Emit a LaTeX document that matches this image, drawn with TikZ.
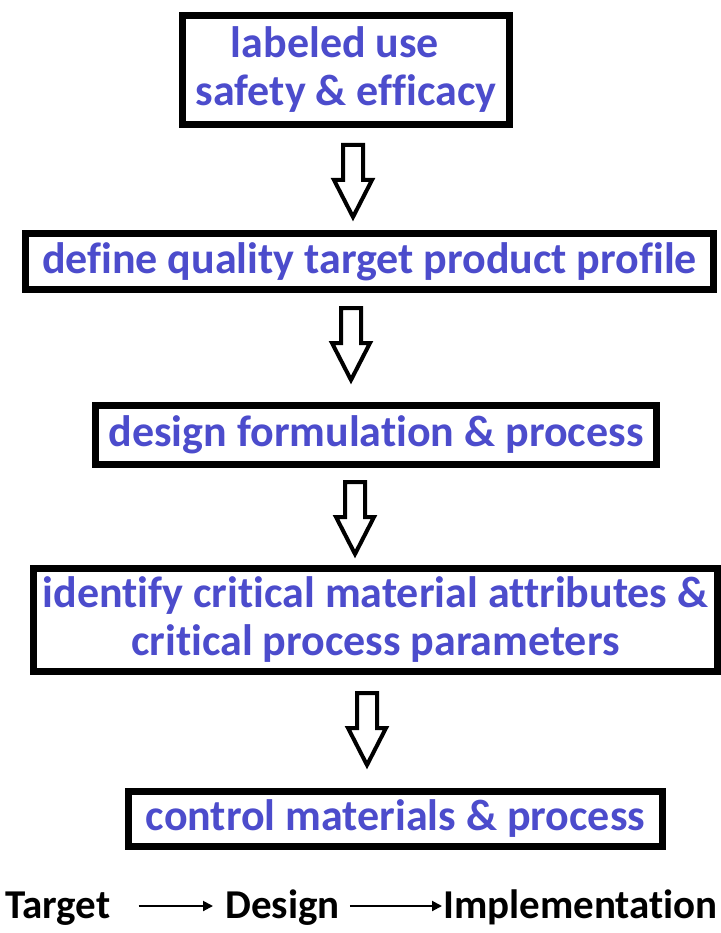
\documentclass[tikz,border=0pt]{standalone}
\usepackage{fontspec}
\setmainfont{Carlito}[Ligatures={NoCommon}]
\usetikzlibrary{arrows.meta}
\definecolor{txtblue}{RGB}{76,76,204}
\tikzset{
  stage/.style={draw=black, line width=7pt, fill=white, inner sep=0pt,
    font=\fontsize{44}{48}\selectfont\bfseries, text=txtblue, align=center},
  blockarrow/.style={draw=black, line width=4pt, fill=white, line join=miter},
  legend/.style={font=\fontsize{41}{46}\selectfont\bfseries, text=black, inner sep=0pt},
  legendarrow/.style={line width=2pt, -{Triangle[length=10pt,width=10pt]}}
}
\newcommand{\hollowdown}[1]{%
  \draw[blockarrow, shift={(#1)}] (-10,-37) -- (10,-37) -- (10,-2) -- (19,-2)
    -- (0,35) -- (-19,-2) -- (-10,-2) -- cycle;}
\begin{document}
\begin{tikzpicture}[x=1pt,y=-1pt]
\useasboundingbox (0,0) rectangle (720,933);
\node[stage, minimum width=327pt, minimum height=109pt] (b1) at (346,70)
  {labeled use\hspace*{22pt}\\safety \& efficacy};
\node[stage, minimum width=688pt, minimum height=56pt] (b2) at (369.5,261.5)
  {define quality target product profile};
\node[stage, minimum width=561pt, minimum height=59pt] (b3) at (376,435)
  {design formulation \& process};
\node[stage, minimum width=684pt, minimum height=103pt] (b4) at (375.5,620)
  {identify critical material attributes \&\\critical process parameters};
\node[stage, minimum width=534pt, minimum height=55pt] (b5) at (395.5,819)
  {control materials \& process};
\coordinate (a1) at (353,182);
\coordinate (a2) at (351,345);
\coordinate (a3) at (355,519);
\coordinate (a4) at (367,730);
\hollowdown{a1}
\hollowdown{a2}
\hollowdown{a3}
\hollowdown{a4}
\node[legend, anchor=base west] (t) at (5,918) {Target};
\node[legend, anchor=base west] (d) at (225,918) {Design};
\node[legend, anchor=base west] (im) at (443,918) {Implementation};
\draw[legendarrow] ([xshift=28pt,yshift=12pt]t.base east) -- ([xshift=-12pt,yshift=12pt]d.base west);
\draw[legendarrow] ([xshift=10pt,yshift=12pt]d.base east) -- ([xshift=-1pt,yshift=12pt]im.base west);
\end{tikzpicture}
\end{document}
